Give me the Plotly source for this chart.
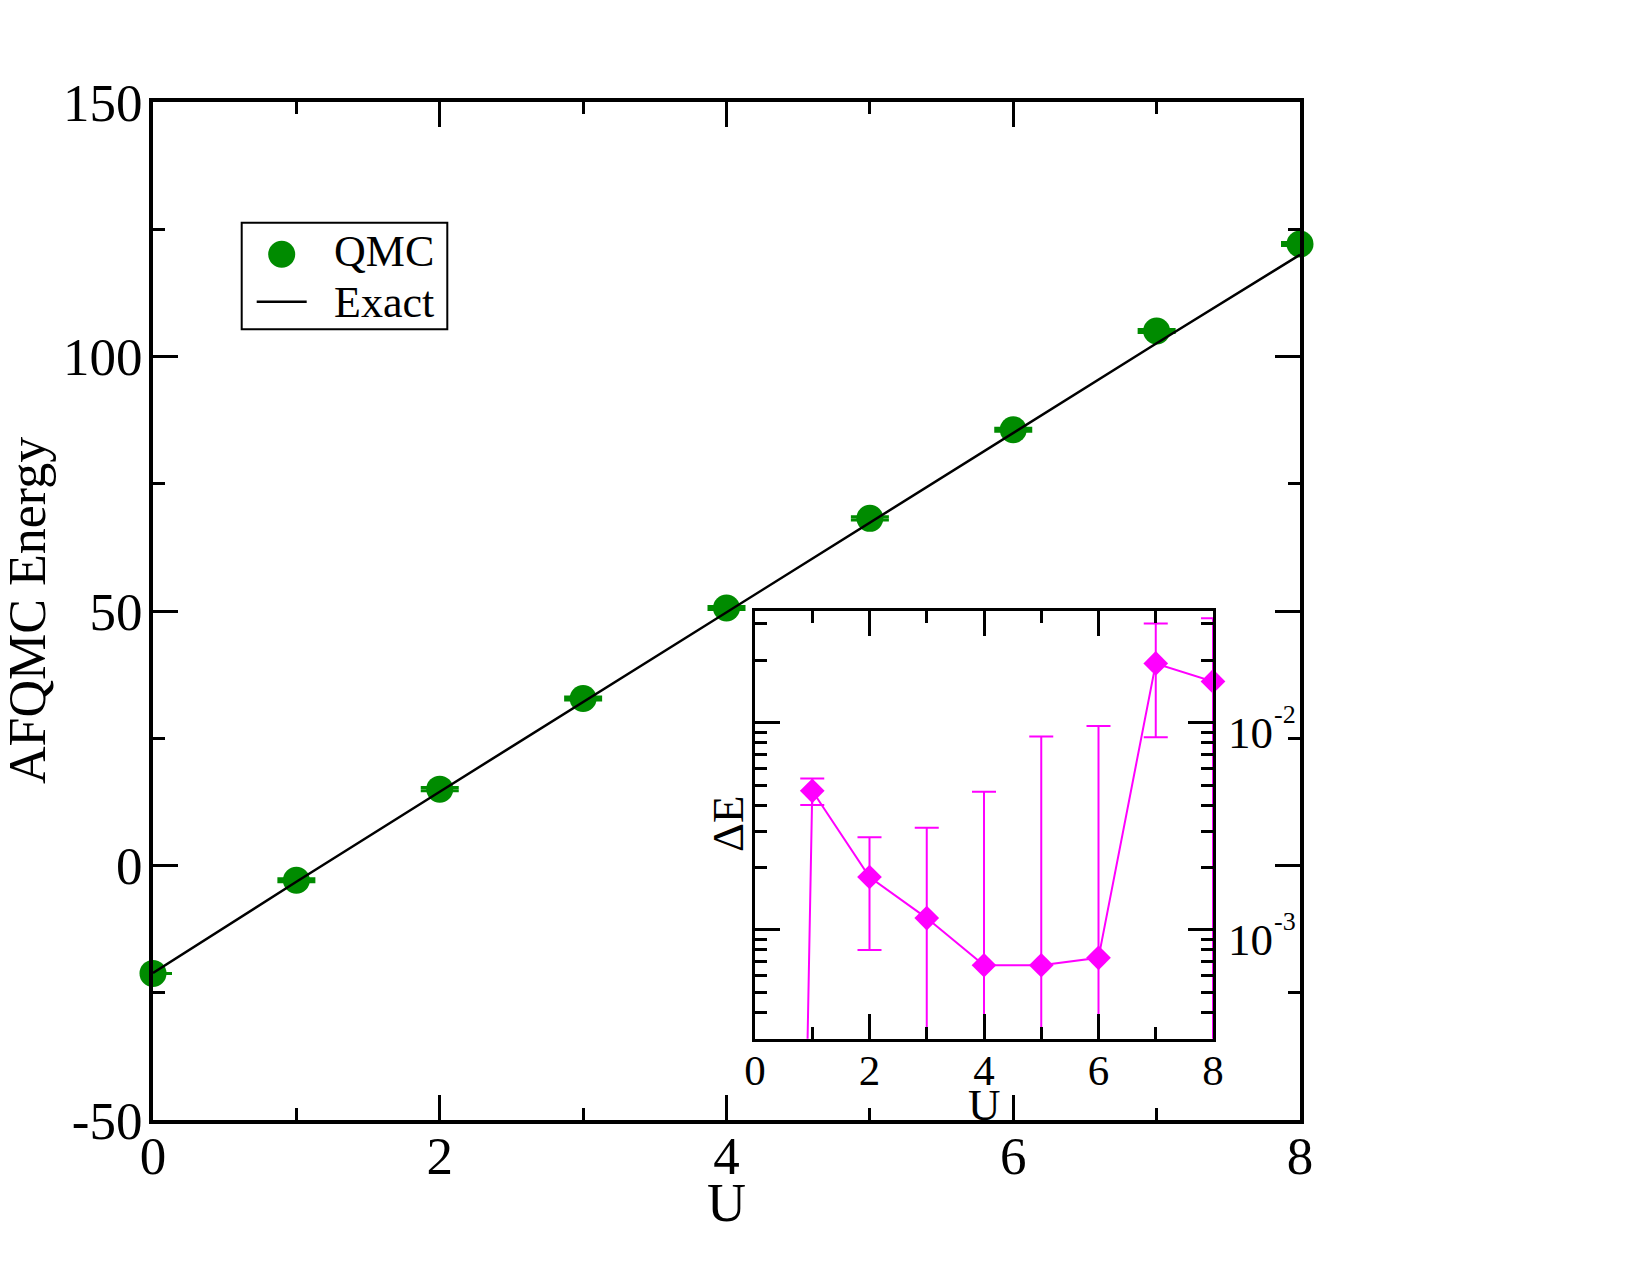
import math
import plotly.graph_objects as go

# ---------------- data ----------------
U = [0, 1, 2, 3, 4, 5, 6, 7, 8]
qmc_energy = [-21.2, -2.9, 15.0, 32.8, 50.6, 68.2, 85.6, 105.0, 122.1]
qmc_err = [None, 0.3, 0.3, 0.3, 0.3, 0.3, 0.3, 0.3, 0.3]
exact_energy = [-21.1, -3.2, 14.5, 32.1, 49.8, 67.4, 85.0, 102.6, 120.0]

dE = [1e-17, 4.69e-3, 1.80e-3, 1.14e-3, 6.75e-4, 6.75e-4, 7.33e-4, 1.93e-2, 1.58e-2]
dE_err = [None, 0.68e-3, 1.0e-3, 1.97e-3, 3.96e-3, 7.9e-3, 8.9e-3, 1.08e-2, 1.61e-2]

main_x_ticks = [0, 2, 4, 6, 8]
main_y_ticks = [-50, 0, 50, 100, 150]
main_y_ticktext = ["-50", "0", "50", "100", "150"]
inset_y_ticks = [1e-3, 1e-2]
inset_y_tick_base = ["10", "10"]
inset_y_tick_exp = ["-3", "-2"]
inset_y_minor = [4e-4, 5e-4, 6e-4, 7e-4, 8e-4, 9e-4,
                 2e-3, 3e-3, 4e-3, 5e-3, 6e-3, 7e-3, 8e-3, 9e-3,
                 2e-2, 3e-2]

GREEN = "rgb(0,139,0)"
MAGENTA = "#ff00ff"
FONT = "Liberation Serif"

# ---------------- geometry helpers (pixels -> paper) ----------------
W, H = 1650, 1275
L, T, R, B = 153, 102, 1300, 1120
PW, PH = R - L, B - T
INSET_X = (755, 1213)
INSET_Y = (610.7, 1038.7)          # top, bottom in pixels
INSET_LOG_RANGE = (-3.525, -1.46)


def px(X):
    return (X - L) / PW


def py(Y):
    return (B - Y) / PH


def inset_value_to_py(v):
    lo, hi = INSET_LOG_RANGE
    frac = (math.log10(v) - lo) / (hi - lo)
    return INSET_Y[1] - frac * (INSET_Y[1] - INSET_Y[0])


fig = go.Figure()

fig.add_trace(go.Scatter(
    x=U, y=qmc_energy, mode="markers", name="QMC",
    marker=dict(symbol="circle", size=27, color=GREEN),
    error_y=dict(type="data", array=qmc_err, color=GREEN, thickness=3, width=19, visible=True),
    cliponaxis=False, showlegend=False, xaxis="x", yaxis="y"))

fig.add_trace(go.Scatter(
    x=U, y=exact_energy, mode="lines", name="Exact",
    line=dict(color="black", width=2.5),
    showlegend=False, xaxis="x", yaxis="y"))

fig.add_trace(go.Scatter(
    x=U, y=dE, mode="lines+markers", name="ΔE",
    marker=dict(symbol="diamond", size=19, color=MAGENTA),
    line=dict(color=MAGENTA, width=2),
    error_y=dict(type="data", array=dE_err, color=MAGENTA, thickness=2, width=12, visible=True),
    cliponaxis=False, showlegend=False, xaxis="x2", yaxis="y2"))

axis_common = dict(showgrid=False, zeroline=False, showline=True, linecolor="black",
                   mirror="allticks", ticks="inside", tickcolor="black")

fig.update_layout(
    width=W, height=H,
    margin=dict(l=L, r=W - R, t=T, b=H - B, pad=0),
    paper_bgcolor="white", plot_bgcolor="white",
    font=dict(family=FONT, color="black"),
    xaxis=dict(domain=[0, 1], anchor="y", range=[0, 8], tickmode="array", tickvals=main_x_ticks,
               ticklen=25, tickwidth=3, linewidth=4,
               tickfont=dict(size=53), ticklabelstandoff=-14,
               minor=dict(ticks="inside", dtick=1, tick0=0, ticklen=12, tickwidth=3, tickcolor="black", showgrid=False),
               **axis_common),
    yaxis=dict(domain=[0, 1], anchor="x", range=[-50, 150], tickmode="array",
               tickvals=main_y_ticks, ticktext=main_y_ticktext,
               ticklen=25, tickwidth=3, linewidth=4,
               tickfont=dict(size=53), ticklabelstandoff=-4,
               minor=dict(ticks="inside", dtick=25, tick0=0, ticklen=12, tickwidth=3, tickcolor="black", showgrid=False),
               **axis_common),
    xaxis2=dict(domain=[px(INSET_X[0]), px(INSET_X[1])], anchor="y2", range=[0, 8], tickmode="array",
                tickvals=main_x_ticks,
                ticklen=25, tickwidth=3, linewidth=3,
                tickfont=dict(size=43), ticklabelstandoff=-8,
                minor=dict(ticks="inside", dtick=1, tick0=0, ticklen=12, tickwidth=3, tickcolor="black", showgrid=False),
                **axis_common),
    yaxis2=dict(domain=[py(INSET_Y[1]), py(INSET_Y[0])], anchor="x2", type="log", range=list(INSET_LOG_RANGE),
                side="right", tickmode="array", tickvals=inset_y_ticks, showticklabels=False,
                ticklen=25, tickwidth=3, linewidth=3,
                minor=dict(ticks="inside", tickmode="array", tickvals=inset_y_minor, ticklen=12, tickwidth=3,
                           tickcolor="black", showgrid=False),
                **axis_common),
)

# inset y tick labels (10 with raised exponent), right of the inset
for val, base, exp in zip(inset_y_ticks, inset_y_tick_base, inset_y_tick_exp):
    ty = inset_value_to_py(val)
    fig.add_annotation(text=base, xref="paper", yref="paper", x=px(1226), y=py(ty + 10.5),
                       showarrow=False, font=dict(size=45), xanchor="left", yanchor="middle")
    fig.add_annotation(text=exp, xref="paper", yref="paper", x=px(1272), y=py(ty - 8),
                       showarrow=False, font=dict(size=26), xanchor="left", yanchor="middle")

# axis titles placed as annotations
fig.add_annotation(text="U", xref="paper", yref="paper", x=0.5, y=py(1203),
                   showarrow=False, font=dict(size=54), xanchor="center", yanchor="middle")
fig.add_annotation(text="AFQMC Energy", xref="paper", yref="paper", x=px(27), y=py(611),
                   textangle=-90, showarrow=False, font=dict(size=52), xanchor="center", yanchor="middle")
fig.add_annotation(text="ΔE", xref="paper", yref="paper", x=px(728), y=py(824),
                   textangle=-90, showarrow=False, font=dict(size=45), xanchor="center", yanchor="middle")
fig.add_annotation(text="U", xref="paper", yref="paper", x=px(984), y=py(1105),
                   showarrow=False, font=dict(size=45), xanchor="center", yanchor="middle")

# legend box
fig.add_shape(type="rect", xref="paper", yref="paper", x0=px(241.7), x1=px(447.3), y0=py(329.3), y1=py(222.7),
              line=dict(color="black", width=2), fillcolor="white", layer="above")
fig.add_shape(type="circle", xref="paper", yref="paper", x0=px(281.7 - 13.5), x1=px(281.7 + 13.5),
              y0=py(254.3 + 13.5), y1=py(254.3 - 13.5), line=dict(width=0), fillcolor=GREEN, layer="above")
fig.add_shape(type="line", xref="paper", yref="paper", x0=px(256.7), x1=px(306.7), y0=py(301.7), y1=py(301.7),
              line=dict(color="black", width=2.5), layer="above")
fig.add_annotation(text="QMC", xref="paper", yref="paper", x=px(332), y=py(251),
                   showarrow=False, font=dict(size=44), xanchor="left", yanchor="middle")
fig.add_annotation(text="Exact", xref="paper", yref="paper", x=px(332), y=py(302),
                   showarrow=False, font=dict(size=44), xanchor="left", yanchor="middle")

fig.write_html("out.html")
